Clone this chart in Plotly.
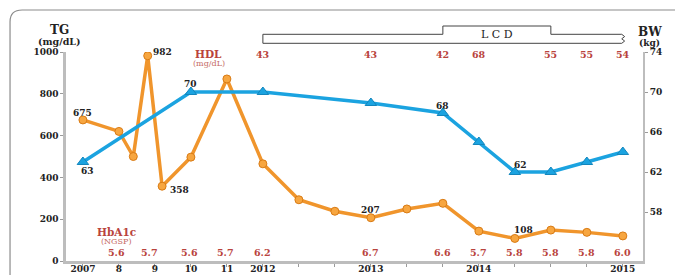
import plotly.graph_objects as go

# ---------------- data ----------------
x_tick_pos = list(range(16))
x_tick_text = ["2007", "8", "9", "10", "11", "2012", "", "", "2013", "", "", "2014", "", "", "", "2015"]

tg_time = [0, 1.0, 1.4, 1.8, 2.2, 3, 4, 5, 6, 7, 8, 9, 10, 11, 12, 13, 14, 15]
tg_vals = [675, 620, 500, 982, 358, 497, 871, 465, 293, 238, 207, 249, 276, 143, 108, 148, 137, 120]

bw_time = [0, 3, 5, 8, 10, 11, 12, 13, 14, 15]
bw_vals = [63, 70, 70, 68.9, 67.9, 65, 62, 62, 63, 64]

hdl_time = [5, 8, 10, 11, 13, 14, 15]
hdl_vals = ["43", "43", "42", "68", "55", "55", "54"]

hba1c_time = [0.92, 1.86, 2.95, 3.97, 5, 8, 10, 11, 12, 13, 14, 15]
hba1c_vals = ["5.6", "5.7", "5.6", "5.7", "6.2", "6.7", "6.6", "5.7", "5.8", "5.8", "5.8", "6.0"]

tg_labels = {3: "982", 0: "675", 4: "358", 10: "207", 14: "108"}
bw_labels = {0: "63", 1: "70", 4: "68", 6: "62"}

lcd_start, lcd_up, lcd_down, lcd_end = 5, 10, 13, 14.97

FONT = "DejaVu Serif"
RED = "#b9433d"
PALE_RED = "#c56a64"
ORANGE = "#f0952c"
BLUE = "#1ba3e0"

fig = go.Figure()

fig.add_trace(go.Scatter(
    x=bw_time, y=bw_vals, yaxis="y2", mode="lines+markers",
    line=dict(color=BLUE, width=3.5),
    marker=dict(symbol="triangle-up", size=10, color=BLUE, line=dict(color="#1386bd", width=1)),
    showlegend=False, hoverinfo="skip"))

fig.add_trace(go.Scatter(
    x=tg_time, y=tg_vals, mode="lines+markers",
    line=dict(color=ORANGE, width=3.5),
    marker=dict(symbol="circle", size=8, color="#f7a640", line=dict(color="#d97b14", width=1)),
    showlegend=False, hoverinfo="skip"))

ann = []
tf = dict(family=FONT, size=9, color="#222", weight="bold")
C = dict(showarrow=False, xanchor="center", yanchor="middle")

tg_shift = {3: (15, 4), 0: (0, 7), 4: (17, -4), 10: (0, 8), 14: (9, 8)}
for i, t in tg_labels.items():
    xs, ys = tg_shift[i]
    ann.append(dict(x=tg_time[i], y=tg_vals[i], xref="x", yref="y", text=t,
                    xshift=xs, yshift=ys, font=tf, **C))
bw_shift = {0: (5, -9), 1: (0, 8), 4: (0, 7), 6: (6, 7)}
for i, t in bw_labels.items():
    xs, ys = bw_shift[i]
    ann.append(dict(x=bw_time[i], y=bw_vals[i], xref="x", yref="y2", text=t,
                    xshift=xs, yshift=ys, font=tf, **C))

for xv, t in zip(hdl_time, hdl_vals):
    ann.append(dict(x=xv, y=0.99, xref="x", yref="paper", text=t,
                    font=dict(family=FONT, size=9.5, color=RED, weight="bold"), **C))
for xv, t in zip(hba1c_time, hba1c_vals):
    ann.append(dict(x=xv, y=0.042, xref="x", yref="paper", text=t,
                    font=dict(family=FONT, size=9.5, color=RED, weight="bold"), **C))

ann += [
    dict(x=3.5, y=0.991, xref="x", yref="paper", text="HDL",
         font=dict(family=FONT, size=10.5, color=RED, weight="bold"), **C),
    dict(x=3.5, y=0.944, xref="x", yref="paper", text="(mg/dL)",
         font=dict(family=FONT, size=8, color=PALE_RED), **C),
    dict(x=0.93, y=0.1411, xref="x", yref="paper", text="HbA1c",
         font=dict(family=FONT, size=10.5, color=RED, weight="bold"), **C),
    dict(x=0.93, y=0.0933, xref="x", yref="paper", text="(NGSP)",
         font=dict(family=FONT, size=8, color=PALE_RED), **C),
    dict(x=-0.0121, y=1.1029, xref="paper", yref="paper", text="TG",
         font=dict(family=FONT, size=12, color="#222", weight="bold"), **C),
    dict(x=-0.0121, y=1.0502, xref="paper", yref="paper", text="(mg/dL)",
         font=dict(family=FONT, size=9.5, color="#222", weight="bold"), **C),
    dict(x=1.012, y=1.0957, xref="paper", yref="paper", text="BW",
         font=dict(family=FONT, size=12, color="#222", weight="bold"), **C),
    dict(x=1.012, y=1.0431, xref="paper", yref="paper", text="(kg)",
         font=dict(family=FONT, size=9, color="#222", weight="bold"), **C),
    dict(x=11.49, y=1.082, xref="x", yref="paper", text="L C D",
         font=dict(family=FONT, size=11, color="#222"), **C),
]

y_top, y_mid, y_bot = 1.1244, 1.0847, 1.0416
zz = 0.08
dy = (y_mid - y_bot) / 4
lcd_path = (f"M {lcd_start},{y_bot} L {lcd_start},{y_mid} L {lcd_up},{y_mid} L {lcd_up},{y_top} "
            f"L {lcd_down},{y_top} L {lcd_down},{y_mid} L {lcd_end},{y_mid} "
            f"L {lcd_end+zz},{y_mid-dy} L {lcd_end},{y_mid-2*dy} L {lcd_end+zz},{y_mid-3*dy} "
            f"L {lcd_end},{y_bot} Z")
shapes = [
    dict(type="path", xref="x", yref="paper", path=lcd_path,
         line=dict(color="#444", width=1), fillcolor="rgba(0,0,0,0)"),
    dict(type="path", xref="paper", yref="paper",
         path="M -0.097,-0.2 L -0.097,1.144 Q -0.097,1.201 -0.076,1.201 L 1.1,1.201",
         line=dict(color="#8c8c8c", width=1.2)),
]

# the page body adds an 8px offset, so the figure is shifted accordingly
fig.update_layout(
    width=675, height=267,
    margin=dict(l=58, r=40, t=44, b=14, autoexpand=False),
    paper_bgcolor="white", plot_bgcolor="white",
    annotations=ann, shapes=shapes,
    xaxis=dict(range=[-0.47, 15.56], tickvals=x_tick_pos, ticktext=x_tick_text, automargin=False,
               showgrid=False, zeroline=False, showline=True, linecolor="#bdbdbd", linewidth=2.5,
               ticks="outside", ticklen=3, tickcolor="#9a9a9a", ticklabelstandoff=-6,
               tickfont=dict(family=FONT, size=9, color="#222", weight="bold")),
    yaxis=dict(range=[0, 1000], tickvals=[0, 200, 400, 600, 800, 1000], automargin=False,
               showgrid=False, zeroline=False, showline=True, linecolor="#bdbdbd", linewidth=2.5,
               ticks="outside", ticklen=3, tickcolor="#9a9a9a",
               tickfont=dict(family=FONT, size=9, color="#222", weight="bold")),
    yaxis2=dict(range=[53.1, 74], tickvals=[58, 62, 66, 70, 74], overlaying="y", side="right",
                automargin=False,
                showgrid=False, zeroline=False, showline=True, linecolor="#bdbdbd", linewidth=2,
                ticks="outside", ticklen=3, tickcolor="#9a9a9a",
                tickfont=dict(family=FONT, size=9, color="#222", weight="bold")),
)

fig.write_html("out.html")
